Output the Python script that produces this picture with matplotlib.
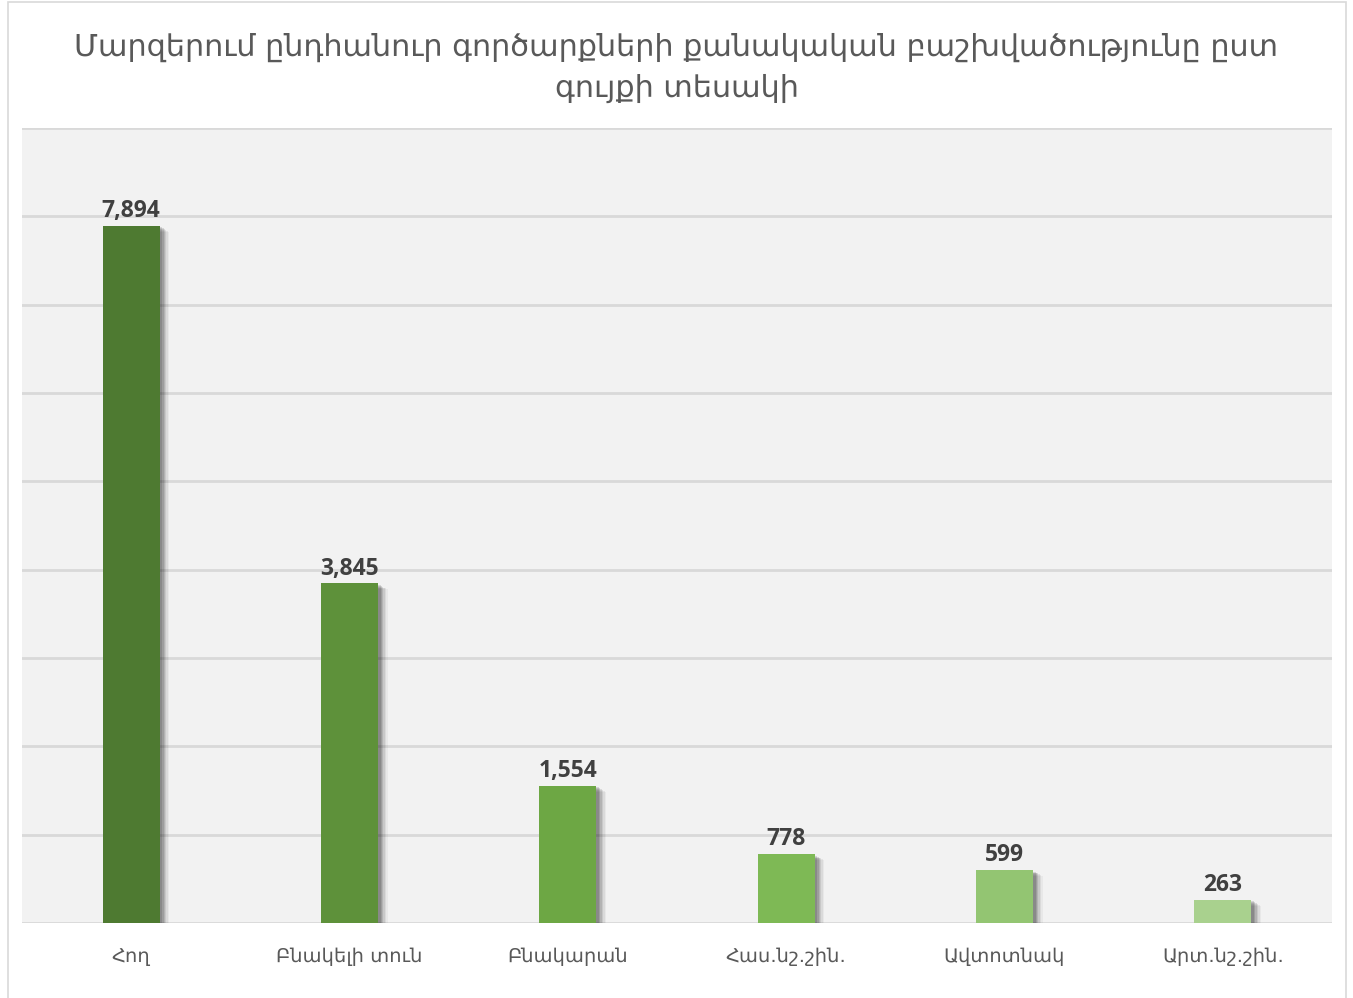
import matplotlib
matplotlib.use("Agg")
import matplotlib.pyplot as plt
import matplotlib.patheffects as pe
from matplotlib.patches import Rectangle

# category data
categories = ["Հող", "Բնակելի տուն", "Բնակարան", "Հաս.նշ.շին.", "Ավտոտնակ", "Արտ.նշ.շին."]
counts = [7894, 3845, 1554, 778, 599, 263]
bar_colors = ["#4E7A31", "#5E913A", "#6DA744", "#7EB955", "#93C572", "#A9D18E"]
title = "Մարզերում ընդհանուր գործարքների քանակական բաշխվածությունը ըստ\nգույքի տեսակի"

plt.rcParams['font.family'] = ['DejaVu Sans']

fig = plt.figure(figsize=(13.53, 9.98), dpi=100)
fig.patches.append(Rectangle((0.006, -0.01), 0.989, 1.008, transform=fig.transFigure,
                             fill=False, edgecolor="#D9D9D9", linewidth=1.2))

ax = fig.add_axes([22/1353, 1-923/998, 1310/1353, 795/998])
ax.set_facecolor("#F2F2F2")
ax.set_xlim(-0.5, 5.5)
ax.set_ylim(0, 9000)
ax.set_yticks(range(0, 9001, 1000))
ax.yaxis.grid(True, color="#D9D9D9", linewidth=2)
ax.set_axisbelow(True)
ax.tick_params(axis='y', left=False, labelleft=False)
ax.tick_params(axis='x', bottom=False, pad=14)
for s in ax.spines.values():
    s.set_visible(False)

# soft shadow built from a few stacked offsets
shadow = [pe.SimplePatchShadow(offset=(o, -o * 0.6), shadow_rgbFace="#000000", alpha=a)
          for o, a in [(7, 0.04), (6, 0.06), (5, 0.08), (4, 0.1), (3, 0.12), (2, 0.12)]] + [pe.Normal()]

x = list(range(len(categories)))
bars = ax.bar(x, counts, width=0.26, color=bar_colors)
for b in bars:
    b.set_path_effects(shadow)

for xi, v in zip(x, counts):
    ax.annotate(f"{v:,}", (xi, v), xytext=(0, 2), textcoords="offset points",
                ha="center", va="bottom", fontsize=16.5, fontweight="bold",
                color="#404040", family=["Open Sans", "DejaVu Sans"])

ax.set_xticks(x)
ax.set_xticklabels(categories, fontsize=14, color="#595959")

fig.text(0.5, 1-68/998, title, ha="center", va="center", fontsize=21.8,
         color="#595959", linespacing=1.5)

fig.savefig("out.png", dpi=100)
